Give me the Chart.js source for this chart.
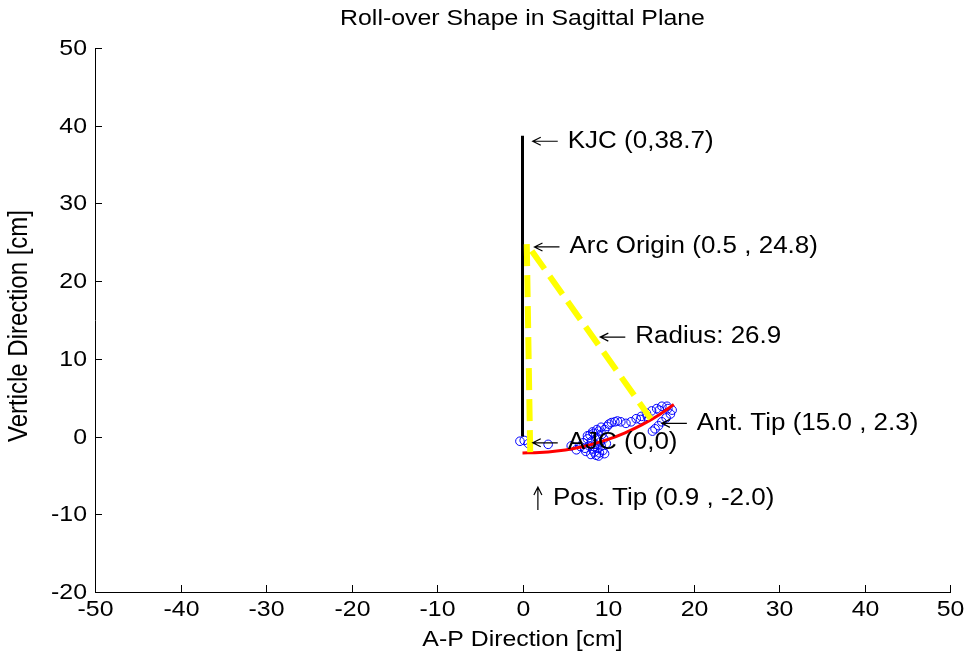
<!DOCTYPE html>
<html>
<head>
<meta charset="utf-8">
<script src="https://cdn.jsdelivr.net/npm/chart.js@4.4.1/dist/chart.umd.min.js"></script>
<style>
  html, body { margin: 0; padding: 0; background: #fff; }
  #wrap { width: 971px; height: 662px; }
</style>
</head>
<body>
<div id="wrap"><canvas id="grafico" width="971" height="662"></canvas></div>
<script>
// eixos
const xTicks = [-50, -40, -30, -20, -10, 0, 10, 20, 30, 40, 50];
const yTicks = [-20, -10, 0, 10, 20, 30, 40, 50];

// linha do joelho (KJC -> AJC)
const kjcX = [0, 0];
const kjcY = [0, 38.7];

// raio tracejado: ponta posterior -> origem do arco -> ponta anterior
const raioX = [0.9, 0.5, 15.0];
const raioY = [-2.0, 24.8, 2.3];

// arco ajustado (vermelho)
const arcoX = [0, 2, 4, 6, 8, 10, 12, 14, 16, 17.7];
const arcoY = [-2.1, -2.06, -1.87, -1.53, -1.03, -0.37, 0.48, 1.53, 2.81, 4.12];

// pontos medidos (circulos azuis)
const pontosX = [-0.3, 0.2, 0.7, 3.0, 5.7, 6.3, 6.8, 7.1, 7.4, 7.6, 7.8, 7.9, 8.0, 8.1, 8.2, 8.3, 8.4, 8.5, 8.6, 8.7,
  8.8, 8.9, 9.0, 9.1, 9.2, 9.3, 9.4, 9.5, 9.6, 9.2, 8.7, 8.2, 7.6, 9.8, 9.6, 10.1, 10.8, 11.5, 12.1, 12.7,
  13.3, 13.9, 14.5, 15.1, 15.7, 16.3, 16.9, 17.5, 17.3, 16.8, 16.3, 15.9, 15.5, 15.2, 14.6, 13.8, 16.0, 17.0,
  9.9, 10.4, 11.1, 7.3, 8.9, 8.4];
const pontosY = [-0.6, -0.5, -0.9, -1.0, -1.2, -1.7, -1.3, -0.8, -1.9, -0.3, -1.2, 0.2, -2.3, -0.6, -1.6, 0.4, -2.0, -1.0, -2.4, -0.2,
  -1.5, 0.7, -2.1, -0.7, -1.2, 0.3, -1.8, -0.3, 0.9, 1.2, 0.9, 0.6, 0.1, -0.9, -2.2, 1.6, 1.9, 1.9, 1.7, 1.9,
  2.3, 2.6, 3.0, 3.3, 3.6, 3.9, 3.9, 3.4, 2.9, 2.4, 1.9, 1.4, 1.0, 0.7, 2.6, 2.2, 3.4, 3.6,
  1.3, 1.8, 2.0, -1.5, -2.5, -1.3];

// anotacoes (ponta da seta em unidades do grafico)
const notaTexto = ['KJC (0,38.7)', 'Arc Origin (0.5 , 24.8)', 'Radius: 26.9', 'Ant. Tip (15.0 , 2.3)', 'AJC (0,0)', 'Pos. Tip (0.9 , -2.0)'];
const notaX = [1.2, 1.4, 9.1, 16.3, 1.2, 1.8];
const notaY = [38.0, 24.4, 12.8, 1.7, -0.8, -6.5];
const notaSeta = ['left', 'left', 'left', 'left', 'left', 'up'];

const titulo = 'Roll-over Shape in Sagittal Plane';
const tituloX = 'A-P Direction [cm]';
const tituloY = 'Verticle Direction [cm]';

function pares(xs, ys) {
    return xs.map((x, i) => ({ x: x, y: ys[i] }));
}

const FONTE = "'Liberation Sans', Arial, sans-serif";
const ESTICA = 1.13; // a figura original esta esticada na horizontal

// escreve texto esticado na horizontal
function texto(ctx, txt, x, y, size, align, rot) {
    ctx.save();
    ctx.translate(x, y);
    if (rot) {
        ctx.rotate(rot);
        ctx.scale(1, ESTICA);
    } else {
        ctx.scale(ESTICA, 1);
    }
    ctx.font = size + 'px ' + FONTE;
    ctx.fillStyle = '#000';
    ctx.textAlign = align;
    ctx.textBaseline = 'middle';
    ctx.fillText(txt, 0, 0);
    ctx.restore();
}

// ticks para dentro, rotulos e titulos
const eixos = {
    id: 'eixos',
    afterDraw(chart) {
        const ctx = chart.ctx;
        const xs = chart.scales.x, ys = chart.scales.y;
        const area = chart.chartArea;
        ctx.save();
        ctx.strokeStyle = '#000';
        ctx.lineWidth = 1;
        xTicks.forEach(v => {
            const px = Math.round(xs.getPixelForValue(v)) + 0.5;
            ctx.beginPath();
            ctx.moveTo(px, area.bottom);
            ctx.lineTo(px, area.bottom - 7);
            ctx.stroke();
            texto(ctx, String(v), px, area.bottom + 18, 22, 'center');
        });
        yTicks.forEach(v => {
            const py = Math.round(ys.getPixelForValue(v)) + 0.5;
            ctx.beginPath();
            ctx.moveTo(area.left, py);
            ctx.lineTo(area.left + 7, py);
            ctx.stroke();
            texto(ctx, String(v), area.left - 8, py, 22, 'right');
        });
        const cx = (area.left + area.right) / 2;
        texto(ctx, titulo, cx, 19, 22, 'center');
        texto(ctx, tituloX, cx, 640, 22, 'center');
        texto(ctx, tituloY, 20, 326, 24, 'center', -Math.PI / 2);
        ctx.restore();
    }
};

// setas e textos das anotacoes
const anotacoes = {
    id: 'anotacoes',
    afterDatasetsDraw(chart) {
        const ctx = chart.ctx;
        const xs = chart.scales.x, ys = chart.scales.y;
        ctx.save();
        ctx.strokeStyle = '#000';
        ctx.lineWidth = 1.2;
        notaTexto.forEach((txt, i) => {
            const px = xs.getPixelForValue(notaX[i]);
            const py = ys.getPixelForValue(notaY[i]);
            ctx.beginPath();
            if (notaSeta[i] === 'left') {
                ctx.moveTo(px, py); ctx.lineTo(px + 25, py);
                ctx.moveTo(px + 8, py - 4); ctx.lineTo(px, py); ctx.lineTo(px + 8, py + 4);
                ctx.stroke();
                texto(ctx, txt, px + 35, py, 23, 'left');
            } else {
                ctx.moveTo(px, py); ctx.lineTo(px, py + 23);
                ctx.moveTo(px - 4, py + 8); ctx.lineTo(px, py); ctx.lineTo(px + 4, py + 8);
                ctx.stroke();
                texto(ctx, txt, px + 15, py + 12, 23, 'left');
            }
        });
        ctx.restore();
    }
};

document.addEventListener('DOMContentLoaded', function () {
    const ctx = document.getElementById('grafico').getContext('2d');
    new Chart(ctx, {
        type: 'scatter',
        data: {
            datasets: [{
                label: 'Raio',
                data: pares(raioX, raioY),
                showLine: true,
                borderColor: '#ffff00',
                borderWidth: 6,
                borderDash: [22, 9],
                pointRadius: 0,
                order: 0
            }, {
                label: 'Arco',
                data: pares(arcoX, arcoY),
                showLine: true,
                borderColor: '#ff0000',
                borderWidth: 3,
                tension: 0.3,
                pointRadius: 0,
                order: 1
            }, {
                label: 'KJC',
                data: pares(kjcX, kjcY),
                showLine: true,
                borderColor: '#000',
                borderWidth: 3,
                pointRadius: 0,
                order: 2
            }, {
                label: 'Pontos',
                data: pares(pontosX, pontosY),
                showLine: false,
                pointStyle: 'circle',
                pointRadius: 4.3,
                borderColor: '#0000ff',
                backgroundColor: 'rgba(0,0,0,0)',
                borderWidth: 1,
                order: 3
            }]
        },
        options: {
            responsive: false,
            animation: false,
            layout: { padding: { left: 0, right: 21, top: 48, bottom: 0 } },
            plugins: {
                legend: { display: false },
                tooltip: { enabled: false },
                title: { display: false }
            },
            scales: {
                x: {
                    type: 'linear',
                    min: xTicks[0],
                    max: xTicks[xTicks.length - 1],
                    afterBuildTicks: s => { s.ticks = xTicks.map(v => ({ value: v })); },
                    afterFit: s => { s.height = 70; },
                    grid: { display: false, drawTicks: false },
                    border: { display: true, color: '#000', width: 1 },
                    ticks: { display: false }
                },
                y: {
                    type: 'linear',
                    min: yTicks[0],
                    max: yTicks[yTicks.length - 1],
                    afterBuildTicks: s => { s.ticks = yTicks.map(v => ({ value: v })); },
                    afterFit: s => { s.width = 95; },
                    grid: { display: false, drawTicks: false },
                    border: { display: true, color: '#000', width: 1 },
                    ticks: { display: false }
                }
            }
        },
        plugins: [eixos, anotacoes]
    });
});
</script>
</body>
</html>
